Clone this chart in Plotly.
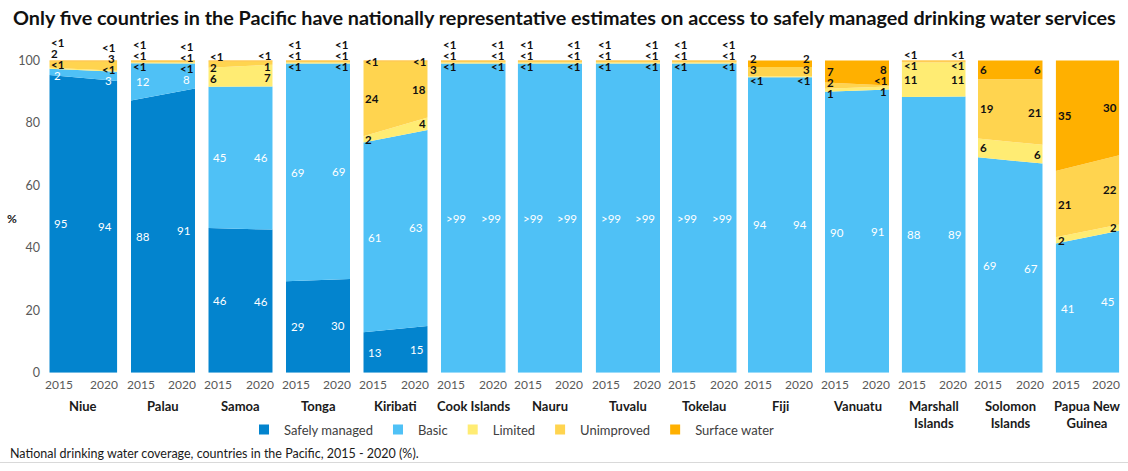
import plotly.graph_objects as go

W, H = 1128, 471

# ---------------- data ----------------
countries = ["Niue", "Palau", "Samoa", "Tonga", "Kiribati", "Cook Islands", "Nauru",
             "Tuvalu", "Tokelau", "Fiji", "Vanuatu", "Marshall<br>Islands",
             "Solomon<br>Islands", "Papua New<br>Guinea"]
years = [2015, 2020]
L = 0.3    # estimate used for "<1"
G = 99.4   # estimate used for ">99"

safely = [[95, 94], [88, 91], [46, 46], [29, 30], [13, 15], [0, 0], [0, 0],
          [0, 0], [0, 0], [0, 0], [0, 0], [0, 0], [0, 0], [0, 0]]
basic = [[2, 3], [12, 8], [45, 46], [69, 69], [61, 63], [G, G], [G, G],
         [G, G], [G, G], [94, 94], [90, 91], [88, 89], [69, 67], [41, 45]]
limited = [[L, L], [L, L], [6, 7], [L, L], [2, 4], [L, L], [L, L],
           [L, L], [L, L], [L, L], [1, 1], [11, 11], [6, 6], [2, 2]]
unimproved = [[2, 3], [L, L], [2, 1], [L, L], [24, 18], [L, L], [L, L],
              [L, L], [L, L], [3, 3], [2, L], [L, L], [19, 21], [21, 22]]
surface = [[L, L], [L, L], [L, L], [L, L], [L, L], [L, L], [L, L],
           [L, L], [L, L], [2, 2], [7, 8], [L, L], [6, 6], [35, 30]]

services = ["Safely managed", "Basic", "Limited", "Unimproved", "Surface water"]
series = [safely, basic, limited, unimproved, surface]
colors = ["#0384CE", "#4FC1F6", "#FFEC73", "#FFD44F", "#FFB000"]
label_colors = ["white", "white", "#111111", "#111111", "#111111"]

# ---------------- layout geometry ----------------
lefts = [49.3, 131, 208.3, 286, 363.3, 441, 517.7, 595.7, 672, 748, 825, 901.7, 978, 1055.7]
rights = [117.3, 195, 272.7, 350, 427.7, 505.7, 582, 660, 736.7, 812, 889, 965.7, 1042.7, 1119.3]
Y0_PX, Y100_PX = 378.3, 61.5
YMAX = 110
px_per = (Y0_PX - Y100_PX) / 100
ytop_px = Y100_PX - (YMAX - 100) * px_per


def py(pix):
    return (H - pix) / H


FONT = "Lato"
fig = go.Figure()

annotations = []
for i, c in enumerate(countries):
    xa = "x" if i == 0 else f"x{i+1}"
    for s, (name, data) in enumerate(zip(services, series)):
        fig.add_trace(go.Scatter(
            x=years, y=data[i], mode="none", stackgroup=f"g{i}",
            groupnorm="percent" if s == 0 else None,
            fillcolor=colors[s], line=dict(width=0),
            xaxis=xa, yaxis="y", showlegend=False, name=name,
            hovertemplate=name + ": %{y:.0f}%<extra>" + c.replace("<br>", " ") + "</extra>"))

    # value labels
    for k, yr in enumerate(years):
        vals = [series[s][i][k] for s in range(5)]
        tot = sum(vals)
        cum = 0
        items = []
        for s, v in enumerate(vals):
            nv = v * 100 / tot
            if v > 0:
                txt = "<1" if v < 1 else (">99" if v > 99 else str(int(round(v))))
                items.append([cum + nv / 2, txt, s])
            cum += nv
        # cluster overlapping labels
        gap = 3.5
        mids = [it[0] for it in items]
        cl = []
        for j, m in enumerate(mids):
            cl.append({"idx": [j], "bottom": m})
            while len(cl) > 1:
                a, b = cl[-2], cl[-1]
                a_top = a["bottom"] + gap * (len(a["idx"]) - 1)
                if b["bottom"] - a_top < gap:
                    idx = a["idx"] + b["idx"]
                    mean = sum(mids[q] for q in idx) / len(idx)
                    bottom = mean - gap * (len(idx) - 1) / 2
                    floor = min(mids[q] for q in idx) - 1.2
                    cl[-2:] = [{"idx": idx, "bottom": max(bottom, floor)}]
                else:
                    break
        pos = {}
        for cc in cl:
            for n, q in enumerate(cc["idx"]):
                pos[q] = cc["bottom"] + gap * n
        for j, (m, txt, s) in enumerate(items):
            white = s < 2
            shift = 4 if white else 1
            annotations.append(dict(
                xref=xa, yref="y", x=yr, y=pos[j],
                xanchor="left" if k == 0 else "right",
                xshift=shift if k == 0 else -shift,
                yanchor="middle", text=("<b>" + txt + "</b>") if not white else txt,
                showarrow=False, borderpad=0,
                font=dict(family=FONT, size=11.5, color=label_colors[s])))

    # year labels
    annotations.append(dict(xref=xa, yref="paper", x=2015, y=py(390), xanchor="left",
                            xshift=-6, yanchor="middle", text="2015", showarrow=False,
                            font=dict(family=FONT, size=12, color="#595959")))
    annotations.append(dict(xref=xa, yref="paper", x=2020, y=py(390), xanchor="right",
                            xshift=3, yanchor="middle", text="2020", showarrow=False,
                            font=dict(family=FONT, size=12, color="#595959")))
    # country label
    annotations.append(dict(xref=xa + " domain", yref="paper", x=0.5, y=py(402),
                            xanchor="center", yanchor="top", text="<b>" + c + "</b>",
                            showarrow=False,
                            font=dict(family=FONT, size=13, color="#1a1a1a")))

# legend entries
for name, col in zip(services, colors):
    fig.add_trace(go.Scatter(x=[None], y=[None], mode="markers", name=name,
                             marker=dict(symbol="square", size=10, color=col),
                             xaxis="x", yaxis="y", showlegend=True))

# title, % and note
annotations.append(dict(xref="paper", yref="paper", x=0.5, y=py(17), xanchor="center",
                        yanchor="middle", showarrow=False,
                        text="<b>Only five countries in the Pacific have nationally representative estimates on access to safely managed drinking water services</b>",
                        font=dict(family=FONT, size=19.8, color="#111111")))
annotations.append(dict(xref="paper", yref="paper", x=12 / W, y=py(222), xanchor="center",
                        yanchor="middle", showarrow=False, text="<b>%</b>",
                        font=dict(family=FONT, size=12, color="#1a1a1a")))
annotations.append(dict(xref="paper", yref="paper", x=8 / W, y=py(460), xanchor="left",
                        yanchor="middle", showarrow=False,
                        text="National drinking water coverage, countries in the Pacific, 2015 - 2020 (%).",
                        font=dict(family=FONT, size=12.5, color="#1a1a1a")))

layout = dict(
    width=W, height=H, margin=dict(l=0, r=0, t=0, b=0, pad=0),
    paper_bgcolor="white", plot_bgcolor="white",
    showlegend=True,
    legend=dict(orientation="h", x=512 / W, xanchor="center", y=py(436), yanchor="middle",
                traceorder="normal",
                font=dict(family=FONT, size=13, color="#404040"),
                itemwidth=30, tracegroupgap=0, bgcolor="rgba(0,0,0,0)"),
    yaxis=dict(range=[0, YMAX], domain=[py(Y0_PX), py(ytop_px)], anchor="free",
               position=40 / W, tickvals=[0, 20, 40, 60, 80, 100],
               showgrid=False, zeroline=False, showline=False, ticks="",
               tickfont=dict(family=FONT, size=12.5, color="#595959")),
    annotations=annotations,
    shapes=[dict(type="line", xref="paper", yref="paper", x0=0, x1=1,
                 y0=py(469.5), y1=py(469.5), line=dict(color="#d9d9d9", width=1))],
)
for i in range(len(countries)):
    key = "xaxis" if i == 0 else f"xaxis{i+1}"
    layout[key] = dict(domain=[lefts[i] / W, rights[i] / W], range=[2015, 2020],
                       anchor="y", showticklabels=False, showgrid=False,
                       zeroline=False, showline=False, ticks="")
fig.update_layout(**layout)

fig.write_html("out.html")
